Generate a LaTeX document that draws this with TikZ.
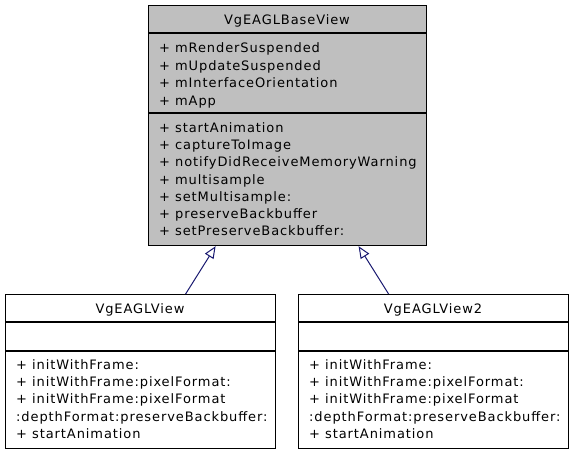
\documentclass[tikz,border=0pt]{standalone}
\usepackage{fontspec}
\setmainfont[LetterSpace=7]{DejaVu Sans}
\usetikzlibrary{arrows.meta,calc}
\definecolor{boxgray}{HTML}{BFBFBF}
\definecolor{edgeblue}{HTML}{191970}
\begin{document}
\begin{tikzpicture}[x=1pt,y=-1pt,
  classbox/.style={draw=black,line width=1.2pt,rectangle,inner sep=0pt,anchor=north west},
  sep/.style={draw=black,line width=1.2pt},
  txt/.style={anchor=base west,inner sep=0pt,font=\fontsize{13}{15}\selectfont},
  ttl/.style={anchor=base,inner sep=0pt,font=\fontsize{13}{15}\selectfont},
  inh/.style={draw=edgeblue,line width=1pt,-{Triangle[open,length=12pt,width=10pt]}}]
\useasboundingbox (0,0) rectangle (573,453);
% base class
\node[classbox,fill=boxgray,minimum width=278pt,minimum height=240pt] (base) at (148,5) {};
\draw[sep] (148,33) -- (426,33);
\draw[sep] (148,113) -- (426,113);
\node[ttl] (bt) at (287,24) {VgEAGLBaseView};
\node[txt] (a1) at (159,52) {+ mRenderSuspended};
\node[txt] (a2) at (159,70) {+ mUpdateSuspended};
\node[txt] (a3) at (159,87) {+ mInterfaceOrientation};
\node[txt] (a4) at (159,105) {+ mApp};
\node[txt] (m1) at (159,132) {+ startAnimation};
\node[txt] (m2) at (159,149) {+ captureToImage};
\node[txt] (m3) at (159,166) {+ notifyDidReceiveMemoryWarning};
\node[txt] (m4) at (159,184) {+ multisample};
\node[txt] (m5) at (159,201) {+ setMultisample:};
\node[txt] (m6) at (159,218) {+ preserveBackbuffer};
\node[txt] (m7) at (159,235) {+ setPreserveBackbuffer:};
% left derived
\node[classbox,fill=white,minimum width=270pt,minimum height=154pt] (left) at (5,294) {};
\draw[sep] (5,322) -- (275,322);
\draw[sep] (5,351) -- (275,351);
\node[ttl] (lt) at (140,313) {VgEAGLView};
\node[txt] (l1) at (16,369) {+ initWithFrame:};
\node[txt] (l2) at (16,386) {+ initWithFrame:pixelFormat:};
\node[txt] (l3) at (16,403) {+ initWithFrame:pixelFormat};
\node[txt] (l4) at (16,421) {:depthFormat:preserveBackbuffer:};
\node[txt] (l5) at (16,438) {+ startAnimation};
% right derived
\node[classbox,fill=white,minimum width=270pt,minimum height=154pt] (right) at (298,294) {};
\draw[sep] (298,322) -- (568,322);
\draw[sep] (298,351) -- (568,351);
\node[ttl] (rt) at (433,313) {VgEAGLView2};
\node[txt] (r1) at (309,369) {+ initWithFrame:};
\node[txt] (r2) at (309,386) {+ initWithFrame:pixelFormat:};
\node[txt] (r3) at (309,403) {+ initWithFrame:pixelFormat};
\node[txt] (r4) at (309,421) {:depthFormat:preserveBackbuffer:};
\node[txt] (r5) at (309,438) {+ startAnimation};
% inheritance
\draw[inh] ([xshift=45pt]left.north) -- ([xshift=-72pt]base.south);
\draw[inh] ([xshift=-45pt]right.north) -- ([xshift=71pt]base.south);
\end{tikzpicture}
\end{document}
